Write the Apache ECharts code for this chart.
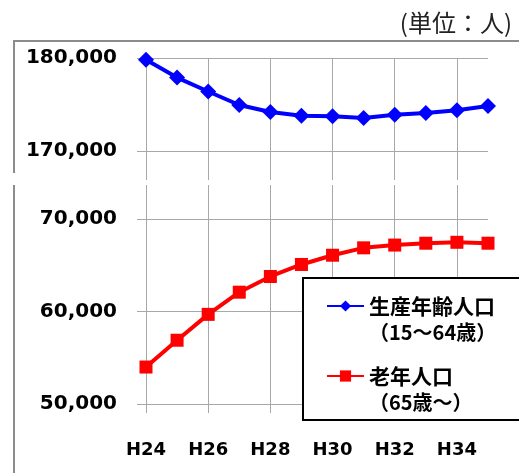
<!DOCTYPE html>
<html>
<head>
<meta charset="utf-8">
<script src="https://cdn.jsdelivr.net/npm/echarts@6/dist/echarts.min.js"></script>
<style>
  html, body { margin: 0; padding: 0; background: #fff; overflow: hidden; }
  #chart { width: 519px; height: 473px; }
</style>
</head>
<body>
<div id="chart"></div>
<script>
// 年度
var categories = ['H24', 'H25', 'H26', 'H27', 'H28', 'H29', 'H30', 'H31', 'H32', 'H33', 'H34', 'H35'];
// 生産年齢人口（15～64歳）
var workingAge = [179800, 177900, 176400, 174950, 174200, 173800, 173750, 173550, 173900, 174100, 174400, 174850];
// 老年人口（65歳～）
var elderly = [54000, 56900, 59700, 62100, 63800, 65100, 66100, 66900, 67200, 67400, 67500, 67400];
var upperTicks = [170000, 180000];
var lowerTicks = [50000, 60000, 70000];
var seriesNames = ['生産年齢人口', '老年人口'];
var seriesNotes = ['（15～64歳）', '（65歳～）'];

var gridColor = '#a8a8a8';
var numFont = 'DejaVu Sans';
var jpFont = '"Noto Sans CJK JP", sans-serif';

function comma(v) {
  return String(v).replace(/\B(?=(\d{3})+(?!\d))/g, ',');
}

var chart = echarts.init(document.getElementById('chart'));

var yAxisCommon = {
  type: 'value',
  axisLine: { show: false },
  axisTick: { show: true, inside: false, length: 9, lineStyle: { color: gridColor } },
  splitLine: { lineStyle: { color: gridColor, width: 1 } },
  axisLabel: {
    margin: 29,
    color: '#000',
    fontFamily: numFont,
    fontWeight: 'bold',
    fontSize: 20,
    formatter: comma
  }
};

var option = {
  animation: false,
  backgroundColor: '#fff',
  title: {
    text: '(単位：人)',
    right: 2,
    top: 6,
    textStyle: { fontFamily: jpFont, fontWeight: 'normal', fontSize: 24, color: '#222' }
  },
  grid: [
    { left: 146, right: 31, top: 58, height: 122 },
    { left: 146, right: 31, top: 185, height: 219 }
  ],
  xAxis: [
    {
      gridIndex: 0,
      type: 'category',
      data: categories,
      boundaryGap: false,
      axisLine: { show: false },
      axisTick: { show: false },
      axisLabel: { show: false },
      splitLine: { show: true, interval: 1, lineStyle: { color: gridColor } }
    },
    {
      gridIndex: 1,
      type: 'category',
      data: categories,
      boundaryGap: false,
      axisLine: { show: true, lineStyle: { color: gridColor } },
      axisTick: { show: true, interval: 1, length: 9, lineStyle: { color: gridColor } },
      axisLabel: {
        interval: 1,
        margin: 37,
        color: '#000',
        fontFamily: numFont,
        fontWeight: 'bold',
        fontSize: 18
      },
      splitLine: { show: true, interval: 1, lineStyle: { color: gridColor } }
    }
  ],
  yAxis: [
    echarts.util.merge({
      gridIndex: 0,
      min: 166900,
      max: 180000,
      axisTick: { customValues: upperTicks },
      axisLabel: { customValues: upperTicks }
    }, yAxisCommon),
    echarts.util.merge({
      gridIndex: 1,
      min: 50000,
      max: 73700,
      axisTick: { customValues: lowerTicks },
      axisLabel: { customValues: lowerTicks }
    }, yAxisCommon)
  ],
  legend: {
    orient: 'vertical',
    left: 326,
    top: 270,
    padding: 0,
    itemGap: -2,
    itemWidth: 37,
    itemHeight: 14,
    z: 20,
    data: seriesNames,
    formatter: function (name) {
      var note = seriesNotes[seriesNames.indexOf(name)];
      return '{pad|\u3000}\n{a|' + name + '}\n{b|' + note + '}';
    },
    textStyle: {
      color: '#000',
      rich: {
        pad: { fontFamily: jpFont, fontSize: 20, lineHeight: 26 },
        a: { fontFamily: jpFont, fontWeight: 'bold', fontSize: 21, lineHeight: 26, color: '#000' },
        b: { fontFamily: jpFont, fontWeight: 'bold', fontSize: 20, lineHeight: 26, color: '#000' }
      }
    }
  },
  graphic: [
    {
      type: 'polyline',
      z: 1,
      shape: { points: [[14, 173], [14, 41], [540, 41]] },
      style: { stroke: '#8c8c8c', lineWidth: 2, fill: null }
    },
    {
      type: 'line',
      z: 1,
      shape: { x1: 14, y1: 185, x2: 14, y2: 473 },
      style: { stroke: '#8c8c8c', lineWidth: 2 }
    },
    {
      // 凡例の枠（右端は図の外へ続く）
      type: 'rect',
      z: 10,
      shape: { x: 303, y: 278, width: 240, height: 142 },
      style: { fill: '#fff', stroke: null }
    },
    {
      type: 'polyline',
      z: 11,
      shape: { points: [[540, 278], [303, 278], [303, 420], [540, 420]] },
      style: { stroke: '#000', lineWidth: 2, fill: null }
    }
  ],
  series: [
    {
      name: seriesNames[0],
      type: 'line',
      xAxisIndex: 0,
      yAxisIndex: 0,
      data: workingAge,
      symbol: 'diamond',
      symbolSize: 16,
      itemStyle: { color: '#0000ff' },
      lineStyle: { color: '#0000ff', width: 4 }
    },
    {
      name: seriesNames[1],
      type: 'line',
      xAxisIndex: 1,
      yAxisIndex: 1,
      data: elderly,
      symbol: 'rect',
      symbolSize: 13,
      itemStyle: { color: '#ff0000' },
      lineStyle: { color: '#ff0000', width: 4 }
    }
  ]
};

chart.setOption(option);
</script>
</body>
</html>
